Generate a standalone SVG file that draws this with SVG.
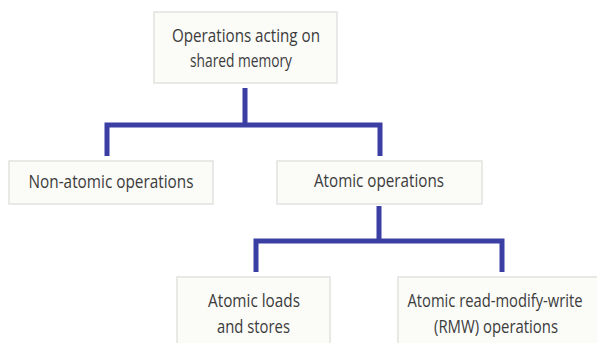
<svg xmlns="http://www.w3.org/2000/svg" width="597" height="343" viewBox="0 0 597 343">
<style>
.box{fill:#fbfbf8;stroke:#e2e2e0;stroke-width:1.5}
.t{font-family:"Open Sans","Liberation Sans",sans-serif;font-size:18px;fill:#3c3c3c;text-anchor:middle}
.c{fill:none;stroke:#3b3fa3;stroke-width:5}
</style>
<rect width="597" height="343" fill="#ffffff"/>
<g id="connectors">
<path class="c" d="M245 88V125M107 156V125H380V156"/>
<path class="c" d="M379 206V241M256 272V241H502V272"/>
</g>
<g id="root">
<rect class="box" x="154" y="12" width="183" height="71"/>
<text class="t" x="246" y="42" textLength="148" lengthAdjust="spacingAndGlyphs">Operations acting on</text>
<text class="t" x="241" y="67" textLength="102" lengthAdjust="spacingAndGlyphs">shared memory</text>
</g>
<g id="nonatomic">
<rect class="box" x="9" y="161" width="204" height="43"/>
<text class="t" x="111" y="188" textLength="165" lengthAdjust="spacingAndGlyphs">Non-atomic operations</text>
</g>
<g id="atomic">
<rect class="box" x="277" y="161" width="205" height="43"/>
<text class="t" x="379" y="187" textLength="130" lengthAdjust="spacingAndGlyphs">Atomic operations</text>
</g>
<g id="loads">
<rect class="box" x="177" y="277" width="153" height="80"/>
<text class="t" x="254" y="307" textLength="92" lengthAdjust="spacingAndGlyphs">Atomic loads</text>
<text class="t" x="253.5" y="333" textLength="73" lengthAdjust="spacingAndGlyphs">and stores</text>
</g>
<g id="rmw">
<rect class="box" x="398" y="277" width="205" height="80"/>
<text class="t" x="495" y="307" textLength="175" lengthAdjust="spacingAndGlyphs">Atomic read-modify-write</text>
<text class="t" x="496" y="333" textLength="124" lengthAdjust="spacingAndGlyphs">(RMW) operations</text>
</g>
</svg>
